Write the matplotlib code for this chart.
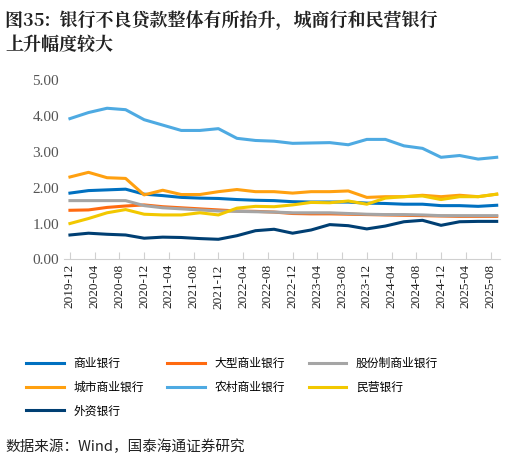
import matplotlib.pyplot as plt
import numpy as np

plt.rcParams['font.family'] = ['Liberation Serif', 'Noto Sans CJK SC', 'DejaVu Sans']

# 季度数据, 2019-12 至 2025-09 (按月份索引放置)
series_names = ['商业银行', '大型商业银行', '股份制商业银行', '城市商业银行', '农村商业银行', '民营银行', '外资银行']
commercial = [1.85, 1.92, 1.94, 1.96, 1.82, 1.78, 1.73, 1.71, 1.70, 1.67, 1.65, 1.64,
              1.61, 1.60, 1.60, 1.60, 1.57, 1.56, 1.54, 1.54, 1.50, 1.50, 1.48, 1.51]
big = [1.37, 1.38, 1.45, 1.49, 1.52, 1.47, 1.44, 1.41, 1.38, 1.35, 1.34, 1.32,
       1.28, 1.27, 1.27, 1.26, 1.25, 1.24, 1.23, 1.22, 1.21, 1.20, 1.20, 1.20]
joint = [1.64, 1.64, 1.64, 1.64, 1.50, 1.44, 1.41, 1.38, 1.35, 1.34, 1.33, 1.32,
         1.30, 1.30, 1.30, 1.28, 1.26, 1.25, 1.25, 1.24, 1.22, 1.22, 1.22, 1.22]
city = [2.30, 2.43, 2.28, 2.26, 1.80, 1.93, 1.81, 1.81, 1.89, 1.95, 1.89, 1.89,
        1.85, 1.89, 1.89, 1.91, 1.73, 1.75, 1.75, 1.79, 1.75, 1.79, 1.75, 1.82]
rural = [3.93, 4.10, 4.22, 4.18, 3.90, 3.75, 3.60, 3.60, 3.65, 3.38, 3.32, 3.30,
         3.24, 3.25, 3.26, 3.20, 3.35, 3.35, 3.17, 3.10, 2.85, 2.90, 2.80, 2.85]
private = [1.00, 1.14, 1.30, 1.39, 1.26, 1.24, 1.24, 1.30, 1.24, 1.43, 1.48, 1.47,
           1.52, 1.59, 1.58, 1.63, 1.54, 1.71, 1.75, 1.77, 1.67, 1.75, 1.75, 1.82]
foreign = [0.68, 0.73, 0.70, 0.68, 0.59, 0.62, 0.61, 0.58, 0.56, 0.66, 0.80, 0.84,
           0.73, 0.82, 0.97, 0.94, 0.85, 0.93, 1.05, 1.09, 0.95, 1.05, 1.06, 1.06]
tick_labels = ['2019-12', '2020-04', '2020-08', '2020-12', '2021-04', '2021-08', '2021-12',
               '2022-04', '2022-08', '2022-12', '2023-04', '2023-08', '2023-12', '2024-04',
               '2024-08', '2024-12', '2025-04', '2025-08']

colors = ['#0070C0', '#FF6A10', '#A5A5A5', '#FFA010', '#4EAAE2', '#F2C800', '#003F73']
data = [commercial, big, joint, city, rural, private, foreign]

fig = plt.figure(figsize=(5.10, 4.59), dpi=100)
ax = fig.add_axes([0.125, 0.435, 0.855, 0.39])

x = np.arange(len(commercial)) * 3
for name, vals, c in zip(series_names, data, colors):
    ax.plot(x, vals, color=c, linewidth=2.2, label=name)

ax.set_ylim(0, 5)
ax.set_yticks(np.arange(0, 5.01, 1))
ax.set_yticklabels([f'{v:.2f}' for v in np.arange(0, 5.01, 1)], fontsize=11, color='#555555')
ax.set_xlim(-1, 69.5)
ax.set_xticks(np.arange(0, 69, 4))
ax.set_xticklabels(tick_labels, rotation=90, fontsize=9.5, color='#222222')
ax.tick_params(axis='y', length=0)
ax.tick_params(axis='x', direction='in', length=5, color='#D0D0D0')
for s in ['top', 'right', 'left']:
    ax.spines[s].set_visible(False)
ax.spines['bottom'].set_color('#D0D0D0')

# 图例按行排列
h, l = ax.get_legend_handles_labels()
order = [0, 3, 6, 1, 4, 2, 5]
fig.legend([h[i] for i in order], [l[i] for i in order], loc='upper left',
           bbox_to_anchor=(0.03, 0.245), ncol=3, frameon=False,
           prop={'family': 'Noto Sans CJK SC', 'size': 8.5}, handlelength=3.2,
           columnspacing=2.0, labelspacing=0.9)

fig.text(0.01, 0.975, '图35:  银行不良贷款整体有所抬升，城商行和民营银行\n上升幅度较大',
         fontsize=13, fontweight='bold', va='top', color='#222222', linespacing=1.3,
         family=['Noto Serif CJK SC', 'Noto Sans CJK SC'])
fig.text(0.01, 0.018, '数据来源：Wind，国泰海通证券研究', fontsize=10.5, color='#222222',
         family=['Noto Sans CJK SC'])

fig.savefig('out.png', dpi=100)
